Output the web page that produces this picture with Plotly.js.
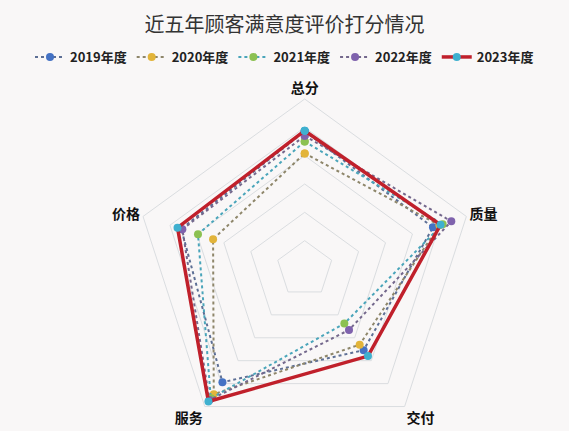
<!DOCTYPE html>
<html>
<head>
<meta charset="utf-8">
<script src="https://cdn.plot.ly/plotly-3.0.1.min.js"></script>
<style>
html,body{margin:0;padding:0;overflow:hidden;background:#F9F7F7;}
#chart{width:569px;height:480px;}
</style>
</head>
<body>
<div id="chart"></div>
<script>
var categories = ['总分', '质量', '交付', '服务', '价格'];
var seriesNames = ['2019年度', '2020年度', '2021年度', '2022年度', '2023年度'];
var y2019 = [94.3, 93.8, 87.7, 94.7, 92.9];
var y2020 = [90.4, 95.0, 86.5, 97.3, 87.0];
var y2021 = [92.5, 95.6, 81.9, 98.2, 89.8];
var y2022 = [93.5, 97.2, 83.3, 98.6, 92.7];
var y2023 = [94.4, 95.2, 89.0, 98.9, 93.6];

var values = [y2019, y2020, y2021, y2022, y2023];
var lineColors = ['#5D6F95', '#8E866A', '#4AA5BA', '#74688C', '#C0202B'];
var markerColors = ['#4472C4', '#E2B43A', '#8CC152', '#7F62AD', '#3FB0CF'];

function closed(arr){ return arr.concat([arr[0]]); }

var traces = values.map(function(v, i){
  var last = (i === values.length - 1);
  return {
    type: 'scatterpolar',
    r: closed(v),
    theta: closed(categories),
    name: seriesNames[i],
    mode: 'lines+markers',
    line: {color: lineColors[i], width: last ? 3.5 : 2, dash: last ? 'solid' : 'dot'},
    marker: {color: markerColors[i], size: last ? 8 : 8},
    hoverinfo: 'name+theta+r'
  };
});

var layout = {
  width: 569,
  height: 480,
  paper_bgcolor: '#F9F7F7',
  plot_bgcolor: '#F9F7F7',
  margin: {l: 0, r: 0, t: 0, b: 0},
  title: {
    text: '近五年顾客满意度评价打分情况',
    font: {family: '"Noto Sans CJK SC", sans-serif', size: 20, color: '#333333'},
    x: 0.5, xanchor: 'center',
    y: 1 - 25/480, yanchor: 'middle'
  },
  showlegend: true,
  legend: {
    orientation: 'h',
    x: 0.5, xanchor: 'center',
    y: 1 - 57/480, yanchor: 'middle',
    font: {family: '"Noto Sans CJK SC", sans-serif', size: 13, color: '#222222', weight: 'bold'},
    bgcolor: 'rgba(0,0,0,0)',
    itemwidth: 30,
    traceorder: 'normal'
  },
  polar: {
    domain: {x: [(304.7-170)/569, (304.7+170)/569], y: [1 - 439/480, 1 - 99/480]},
    bgcolor: '#F9F7F7',
    gridshape: 'linear',
    radialaxis: {
      range: [70, 100],
      dtick: 5,
      tick0: 70,
      showticklabels: false,
      ticks: '',
      showline: false,
      gridcolor: '#DADDE0',
      gridwidth: 1
    },
    angularaxis: {
      direction: 'clockwise',
      rotation: 90,
      showgrid: false,
      linecolor: '#DADDE0',
      linewidth: 1,
      ticks: '',
      tickfont: {family: '"Noto Sans CJK SC", sans-serif', size: 14, color: '#111111', weight: 'bold'}
    }
  }
};

Plotly.newPlot('chart', traces, layout, {displayModeBar: false, staticPlot: true});
</script>
</body>
</html>
